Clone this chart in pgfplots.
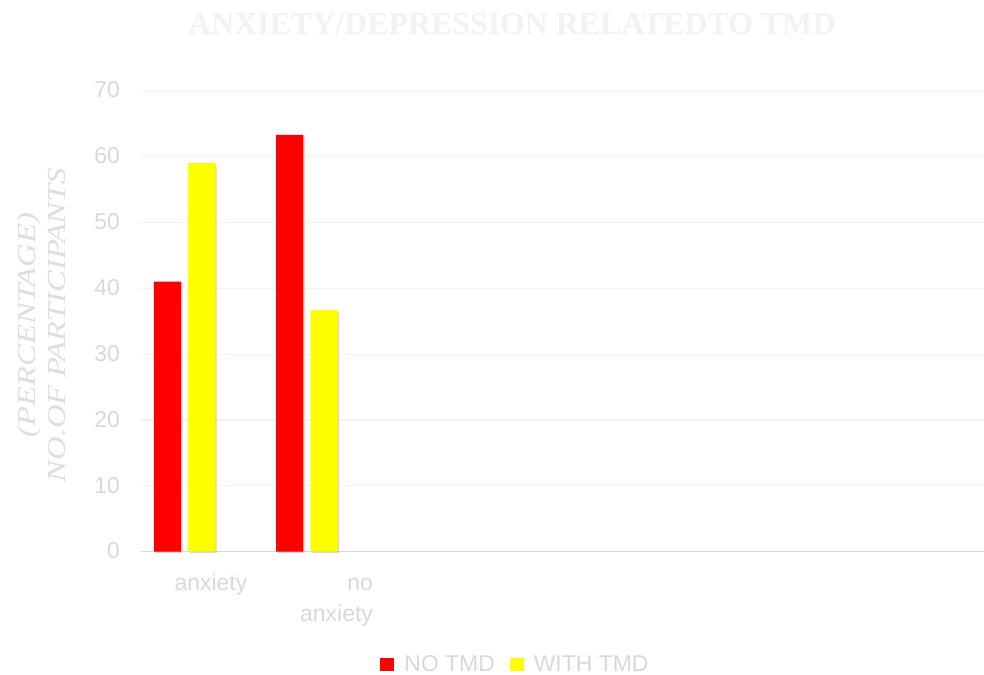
\documentclass[border=0pt]{standalone}
\usepackage{fontspec}
\setmainfont{Liberation Sans}
\newfontfamily\serifface{Liberation Serif}
\usepackage{pgfplots}
\pgfplotsset{compat=1.18}
\usetikzlibrary{shadows}

\definecolor{tickgray}{RGB}{217,217,217}
\definecolor{titlegray}{RGB}{242,242,242}
\definecolor{labelgray}{RGB}{222,222,222}
\definecolor{gridgray}{RGB}{242,242,242}
\definecolor{barred}{RGB}{255,0,0}
\definecolor{baryellow}{RGB}{255,255,0}

\begin{document}
\begin{tikzpicture}
\useasboundingbox (0,0) rectangle (984bp,675bp);

% chart title
\node[anchor=base, text=titlegray, inner sep=0pt,
      font=\serifface\bfseries\fontsize{32}{36}\selectfont]
  at (512bp,640bp) {ANXIETY/DEPRESSION RELATEDTO TMD};

% vertical axis title
\node[rotate=90, align=center, text=labelgray, inner sep=0pt,
      font=\serifface\itshape\fontsize{26}{30}\selectfont]
  at (42bp,350bp)
  {\scalebox{1.26}[1]{(PERCENTAGE)}\\\scalebox{1.26}[1]{NO.OF PARTICIPANTS}};

\begin{axis}[
  at={(141bp,123.3bp)}, anchor=south west,
  scale only axis, width=843bp, height=461bp,
  xmin=-0.3546, xmax=6.533, ymin=0, ymax=70,
  ybar, bar width=27bp,
  axis x line*=bottom, axis y line*=left,
  x axis line style={draw=tickgray, line width=1.2bp, -},
  y axis line style={draw=none},
  major tick length=0pt,
  ytick={0,10,...,70},
  ymajorgrids, major grid style={draw=gridgray, line width=1.2bp},
  /pgf/number format/assume math mode=true,
  yticklabel style={font=\fontsize{23}{26}\selectfont, text=tickgray,
    anchor=east, inner sep=0pt, xshift=-21bp, yshift=-2bp},
  xtick={0.217,1.243},
  xticklabels={anxiety, {no\\anxiety}},
  typeset ticklabels with strut,
  xticklabel style={font=\fontsize{23}{31}\selectfont, text=tickgray,
    align=right, anchor=north, inner sep=0pt, yshift=-16.6bp},
  legend style={at={(0.443,-0.2436)}, anchor=center, draw=none, fill=none,
    legend columns=2, font=\fontsize{23}{26}\selectfont, text=tickgray,
    nodes={inner sep=0pt, text=tickgray},
    /tikz/every odd column/.append style={column sep=10bp},
    /tikz/every even column/.append style={column sep=15bp}},
  legend image code/.code={\path[#1] (0bp,-6.5bp) rectangle (14bp,6.5bp);},
  clip=false,
]
\addplot[fill=barred, draw=none, forget plot, bar shift=-17.1bp,
  drop shadow={shadow xshift=1.5bp, shadow yshift=-1.5bp, opacity=0.3}]
  coordinates {(0,41.0) (1,63.3)};
\addplot[fill=baryellow, draw=none, forget plot, bar shift=17.1bp,
  drop shadow={shadow xshift=1.5bp, shadow yshift=-1.5bp, opacity=0.3}]
  coordinates {(0,59.0) (1,36.7)};
\addlegendimage{fill=barred, draw=none}
\addlegendentry{NO TMD}
\addlegendimage{fill=baryellow, draw=none}
\addlegendentry{WITH TMD}
\end{axis}
\end{tikzpicture}
\end{document}
